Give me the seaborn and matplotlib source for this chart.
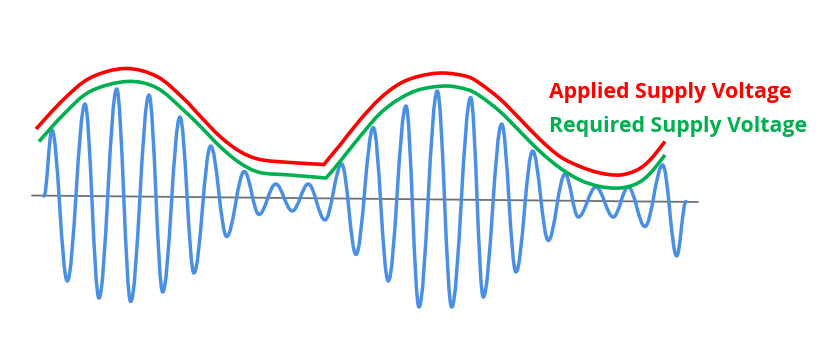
import numpy as np
import matplotlib
matplotlib.use("Agg")
import matplotlib.pyplot as plt
from matplotlib.path import Path
from matplotlib.patches import PathPatch
import seaborn as sns
import pandas as pd

# ---- data (pixel coordinates, y downwards) ----
wave_x = [44, 52, 67.3, 85, 99, 116.7, 130.7, 149, 162.7, 180, 194, 210.7, 226.7,
          244.3, 259, 275.7, 292.3, 308.3, 325, 341.7, 356, 373.3, 388.3, 406, 419,
          437.3, 451.7, 470.7, 483.3, 501.7, 516, 532.7, 548.3, 565, 578.3, 596,
          613.3, 628.3, 645, 662.7, 676.7, 686]
wave_y = [196, 130, 281, 104, 298, 89, 301.5, 95, 292, 117, 273, 146, 236.5,
          171.5, 214.5, 184, 211, 184, 220, 164, 254.5, 127.5, 281, 106, 307,
          91, 307, 97.5, 297, 124, 272, 151, 240.5, 174, 217, 187,
          217, 187, 226.5, 165, 256, 201.5]

applied_left_x = [36, 63, 90, 125, 157, 183, 200, 220, 240, 260, 290, 324]
applied_left_y = [129, 100, 78, 68.5, 76.5, 98, 116, 136.5, 151.5, 159.5, 162.5, 164.5]
applied_right_x = [327.5, 340, 360, 380, 400, 420, 443, 467, 480, 500, 520, 540,
                   560, 580, 600, 620, 637, 650, 665]
applied_right_y = [160, 145, 120, 98.5, 83.5, 76, 73, 76.5, 83.5, 99, 119, 139.5,
                   156.5, 166.5, 173, 175, 170, 160, 141.5]

required_left_x = [39, 63, 90, 127, 157, 185, 200, 220, 240, 260, 290, 326]
required_left_y = [141.5, 115, 91.5, 81.5, 88, 111.5, 126, 146.5, 163, 172.5, 175, 178]
required_right_x = [330, 340, 360, 380, 400, 420, 446, 467, 480, 500, 520, 540,
                    560, 580, 600, 620, 637, 650, 665]
required_right_y = [173.5, 161.5, 136.5, 113.5, 98.5, 89.5, 86, 89.5, 96, 111.5,
                    131.5, 151.5, 168, 180, 186.5, 188, 183.5, 173.5, 155]

axis_x = [32, 698]
axis_y = [195.5, 202]

labels = ["Applied Supply Voltage", "Required Supply Voltage"]
label_x = [549, 549]
label_y = [97.7, 132.3]

RED = "#ff0000"
GREEN = "#00b050"
BLUE = "#4a8fe6"
GRAY = "#707070"


def wave_path(xs, ys, k=0.364):
    verts = [(xs[0], ys[0])]
    codes = [Path.MOVETO]
    for i in range(len(xs) - 1):
        x0, y0, x1, y1 = xs[i], ys[i], xs[i + 1], ys[i + 1]
        dx = x1 - x0
        verts += [(x0 + k * dx, y0), (x1 - k * dx, y1), (x1, y1)]
        codes += [Path.CURVE4] * 3
    return Path(verts, codes)


def cr_segments(xs, ys):
    p = np.column_stack([xs, ys]).astype(float)
    ext = np.vstack([p[0], p, p[-1]])
    verts, codes = [], []
    for i in range(1, len(ext) - 2):
        p0, p1, p2, p3 = ext[i - 1], ext[i], ext[i + 1], ext[i + 2]
        c1 = p1 + (p2 - p0) / 6.0
        c2 = p2 - (p3 - p1) / 6.0
        verts += [tuple(c1), tuple(c2), tuple(p2)]
        codes += [Path.CURVE4] * 3
    return verts, codes


def envelope_path(lx, ly, rx, ry):
    verts = [(lx[0], ly[0])]
    codes = [Path.MOVETO]
    v, c = cr_segments(lx, ly)
    verts += v; codes += c
    verts.append((rx[0], ry[0])); codes.append(Path.LINETO)
    v, c = cr_segments(rx, ry)
    verts += v; codes += c
    return Path(verts, codes)


sns.set_style("white")
fig = plt.figure(figsize=(8.38, 3.39), dpi=100)
ax = fig.add_axes([0, 0, 1, 1])
ax.set_xlim(0, 838)
ax.set_ylim(339, 0)
ax.axis("off")

# baseline axis
sns.lineplot(data=pd.DataFrame({"x": axis_x, "y": axis_y}), x="x", y="y",
             ax=ax, color=GRAY, linewidth=1.3, zorder=1)

ax.add_patch(PathPatch(wave_path(wave_x, wave_y), fill=False, edgecolor=BLUE,
                       linewidth=2.5, capstyle="round", joinstyle="round", zorder=2))
ax.add_patch(PathPatch(envelope_path(applied_left_x, applied_left_y,
                                     applied_right_x, applied_right_y),
                       fill=False, edgecolor=RED, linewidth=2.6,
                       capstyle="butt", joinstyle="round", zorder=3))
ax.add_patch(PathPatch(envelope_path(required_left_x, required_left_y,
                                     required_right_x, required_right_y),
                       fill=False, edgecolor=GREEN, linewidth=2.6,
                       capstyle="butt", joinstyle="round", zorder=3))

for txt, x, y, col in zip(labels, label_x, label_y, [RED, GREEN]):
    ax.text(x, y, txt, color=col, fontsize=15.3, fontweight="bold",
            family=["Open Sans", "DejaVu Sans"], ha="left", va="baseline")

fig.savefig("out.png", dpi=100, facecolor="white")
